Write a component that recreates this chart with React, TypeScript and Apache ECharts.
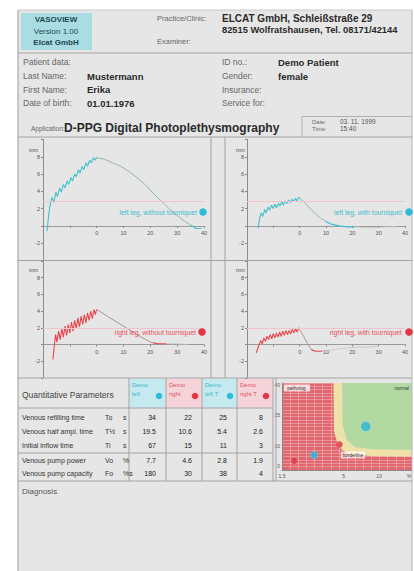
import React, { useEffect, useRef } from "react";
import * as echarts from "echarts";

const FONT = '"Liberation Sans", Arial, Helvetica, sans-serif';

// ---------- curve data (x = time in s, y = amplitude in mm) ----------
const c1Exercise = [[-18.5,-0.6],[-17.8,1.5],[-17.2,2.7],[-16.6,3.3],[-16.0,2.7],[-15.2,3.9],[-14.6,3.4],[-13.8,4.4],[-13.2,3.9],[-12.4,4.8],[-11.8,4.4],[-11.0,5.2],[-10.4,4.8],[-9.6,5.6],[-9.0,5.2],[-8.2,6.0],[-7.6,5.7],[-6.8,6.5],[-6.2,6.1],[-5.4,6.9],[-4.8,6.5],[-4.0,7.3],[-3.4,6.9],[-2.6,7.6],[-2.0,7.3],[-1.2,7.9],[-0.6,7.6],[0,7.9]];
const c1Refill = [[0,7.9],[3,7.7],[6,7.3],[9,6.9],[12,6.3],[15,5.6],[18,4.8],[21,3.8],[24,2.9],[27,2.0],[30,1.2],[33,0.5],[35,0.1]];
const c1Marker = [[35,0.1],[37,-0.3],[39,-0.3]];
const c1Tail: number[][] = [];

const c2Exercise = [[-15.8,-0.3],[-15.2,0.9],[-14.6,1.5],[-14.0,1.1],[-13.3,1.9],[-12.7,1.5],[-12.0,2.2],[-11.4,1.8],[-10.7,2.4],[-10.1,2.0],[-9.4,2.5],[-8.8,2.1],[-8.1,2.6],[-7.5,2.3],[-6.8,2.8],[-6.2,2.4],[-5.5,2.9],[-4.9,2.6],[-4.2,3.0],[-3.6,2.7],[-2.9,3.1],[-2.3,2.8],[-1.6,3.2],[-1.0,2.9],[-0.4,3.3],[0,3.2]];
const c2Refill = [[0,3.2],[2,2.7],[4,2.0],[6,1.4],[8,0.9],[10,0.5]];
const c2Marker = [[10,0.5],[12,0.2],[15,0.0],[18,-0.1],[21,-0.1]];
const c2Tail = [[21,-0.1],[25,-0.2],[29,-0.2],[33,-0.1],[37,-0.1]];

const c3Exercise = [[-16.3,-1.8],[-15.8,-0.2],[-15.3,1.2],[-14.8,0.3],[-14.2,1.6],[-13.6,0.6],[-13.0,1.9],[-12.4,0.9],[-11.8,2.2],[-11.2,1.1],[-10.6,2.4],[-10.0,1.4],[-9.4,2.7],[-8.8,1.6],[-8.2,2.9],[-7.6,1.9],[-7.0,3.2],[-6.4,2.1],[-5.8,3.4],[-5.2,2.4],[-4.6,3.6],[-4.0,2.6],[-3.4,3.8],[-2.8,2.9],[-2.2,4.0],[-1.6,3.1],[-1.0,4.2],[-0.5,3.6],[0,4.2]];
const c3Refill = [[0,4.2],[4,3.4],[8,2.6],[12,1.8],[16,1.0],[20,0.3],[21,0.2]];
const c3Marker = [[21,0.2],[23,0.1],[26,0.1]];
const c3Tail = [[26,0.1],[30,0.1],[34,0.0]];

const c4Exercise = [[-16.5,-1.0],[-15.6,-0.2],[-14.8,0.5],[-14.2,0.1],[-13.6,0.8],[-13.0,0.4],[-12.4,1.0],[-11.8,0.6],[-11.2,1.2],[-10.6,0.7],[-10.0,1.3],[-9.4,0.8],[-8.8,1.4],[-8.2,0.9],[-7.6,1.5],[-7.0,1.0],[-6.4,1.6],[-5.8,1.1],[-5.2,1.7],[-4.6,1.2],[-4.0,1.7],[-3.4,1.3],[-2.8,1.8],[-2.2,1.4],[-1.6,1.9],[-1.0,1.5],[-0.4,2.0],[0,1.8]];
const c4Refill = [[0,1.8],[1.5,1.0],[3,0.1],[4.4,-0.6]];
const c4Marker = [[4.4,-0.6],[6,-0.8],[8.7,-0.8]];
const c4Tail = [[8.7,-0.8],[12,-0.7],[15,-0.5],[18,-0.4],[22,-0.3],[26,-0.3],[30,-0.2]];

const chartLabels = ["left leg, without tourniquet", "left leg, with tourniquet", "right leg, without tourniquet", "right leg, with tourniquet"];
const xTickValues = [-20, -10, 0, 10, 20, 30, 40];
const yTickValues = [-4, -2, 0, 2, 4, 6, 8, 10];

// ---------- table ----------
const colHeadTop = ["Demo", "Demo", "Demo", "Demo"];
const colHeadBottom = ["left", "right", "left T", "right T"];
const rowLabels = ["Venous refilling time", "Venous half ampl. time", "Initial inflow time", "Venous pump power", "Venous pump capacity"];
const rowSymbols = ["To", "T½", "Ti", "Vo", "Fo"];
const rowUnits = ["s", "s", "s", "%", "%s"];
const refillTime = [34, 22, 25, 8];
const halfTime = [19.5, 10.6, 5.4, 2.6];
const inflowTime = [67, 15, 11, 3];
const pumpPower = [7.7, 4.6, 2.8, 1.9];
const pumpCapacity = [180, 30, 38, 4];

// ---------- diagnostic map (x = Vo %, y = T½ s) ----------
const greenZone = [[4.85,41],[4.9,20],[5.3,13],[6.3,9.3],[9,8.2],[19,7.9],[19,41]];
const yellowZone = [[4.1,41],[4.15,17],[4.5,9.6],[5.5,5.8],[9,4.8],[19,4.6],[19,41]];
const mapXLabels = [1.5, 5, 10, 18];
const mapYLabels = [0, 10, 25, 40];

const CYAN = "#45c1cc";
const RED = "#e6474f";

function txt(x: number, y: number, text: string, size: number, color: string, bold = false, align = "left") {
  return {
    type: "text",
    z: 30,
    silent: true,
    style: {
      x, y, text, fill: color,
      font: `${bold ? "bold " : ""}${size}px ${FONT}`,
      textAlign: align, align,
      textVerticalAlign: "middle", verticalAlign: "middle",
    },
  };
}
function hline(x1: number, x2: number, y: number, color = "#a3a3a3", w = 1) {
  return { type: "line", z: 25, silent: true, shape: { x1, y1: y, x2, y2: y }, style: { stroke: color, lineWidth: w } };
}
function vline(x: number, y1: number, y2: number, color = "#a3a3a3", w = 1) {
  return { type: "line", z: 25, silent: true, shape: { x1: x, y1, x2: x, y2 }, style: { stroke: color, lineWidth: w } };
}
function rect(x: number, y: number, w: number, h: number, fill: string, z = 5) {
  return { type: "rect", z, silent: true, shape: { x, y, width: w, height: h }, style: { fill } };
}
function dot(cx: number, cy: number, r: number, fill: string) {
  return { type: "circle", z: 30, silent: true, shape: { cx, cy, r }, style: { fill } };
}

function buildOption() {
  const plotGrids = [
    { left: 43, top: 139.5, width: 161, height: 121 },
    { left: 247, top: 139.5, width: 158, height: 121 },
    { left: 43, top: 261, width: 161, height: 117 },
    { left: 247, top: 261, width: 158, height: 117 },
  ];
  const grids = [
    ...plotGrids,
    { left: 282, top: 383, width: 130, height: 87, show: true, backgroundColor: "#e2666d", borderWidth: 0 },
  ].map((g) => ({ containLabel: false, outerBoundsMode: "none", ...g }));

  const yMin = yTickValues[0];
  const yMax = yTickValues[yTickValues.length - 1];
  const xAxis: any[] = [];
  const yAxis: any[] = [];
  for (let i = 0; i < 4; i++) {
    // move the x axis (line, ticks and labels) up to y = 0
    const zeroOffset = -(plotGrids[i].height * (0 - yMin)) / (yMax - yMin);
    xAxis.push({
      type: "value", gridIndex: i, min: xTickValues[0], max: xTickValues[xTickValues.length - 1], interval: 10,
      offset: zeroOffset,
      axisLine: { show: true, onZero: false, lineStyle: { color: "#9a9a9a", width: 1 } },
      axisTick: { show: true, length: 2, lineStyle: { color: "#888" } },
      axisLabel: { fontSize: 5.5, color: "#555", margin: 4, fontFamily: FONT, formatter: (v: number) => (v < 0 ? "" : String(v)) },
      splitLine: { show: false },
    });
    yAxis.push({
      type: "value", gridIndex: i, min: yMin, max: yMax, interval: 2,
      axisLine: { show: true, onZero: false, lineStyle: { color: "#8c8c8c", width: 1 } },
      axisTick: { show: true, length: 2, lineStyle: { color: "#888" } },
      axisLabel: { fontSize: 5.5, color: "#555", margin: 3, fontFamily: FONT, formatter: (v: number) => (v === 0 || v === 10 || v === -4 ? "" : String(v)) },
      splitLine: { show: false },
    });
  }
  // map axes
  xAxis.push({
    type: "log", gridIndex: 4, min: 1.5, max: 19, logBase: 10,
    axisLine: { show: true, onZero: false, lineStyle: { color: "#888" } },
    axisTick: { show: false },
    axisLabel: { fontSize: 5, color: "#555", margin: 3, fontFamily: FONT, customValues: mapXLabels, formatter: (v: number) => (v >= 18 ? "%" : String(v)) },
    splitLine: { show: false },
  });
  yAxis.push({
    type: "value", gridIndex: 4, min: -2, max: 41,
    axisLine: { show: true, onZero: false, lineStyle: { color: "#888" } },
    axisTick: { show: false },
    axisLabel: { fontSize: 5, color: "#555", margin: 2, fontFamily: FONT, customValues: mapYLabels },
    splitLine: { show: false },
  });
  // cell pattern axes for the map
  xAxis.push({
    type: "value", gridIndex: 4, min: 0, max: 16, interval: 1,
    axisLine: { show: false }, axisTick: { show: false }, axisLabel: { show: false },
    splitLine: { show: true, lineStyle: { color: "rgba(255,255,255,0.42)", width: 0.7 } },
  });
  yAxis.push({
    type: "value", gridIndex: 4, min: 0, max: 26, interval: 1,
    axisLine: { show: false }, axisTick: { show: false }, axisLabel: { show: false },
    splitLine: { show: true, lineStyle: { color: "rgba(255,255,255,0.42)", width: 0.7 } },
  });

  const curves = [
    { ex: c1Exercise, re: c1Refill, mk: c1Marker, tl: c1Tail, col: CYAN, reCol: "#92b6ba", pink: 2.8 },
    { ex: c2Exercise, re: c2Refill, mk: c2Marker, tl: c2Tail, col: CYAN, reCol: "#92b6ba", pink: 2.8 },
    { ex: c3Exercise, re: c3Refill, mk: c3Marker, tl: c3Tail, col: RED, reCol: "#a99896", pink: 2.0 },
    { ex: c4Exercise, re: c4Refill, mk: c4Marker, tl: c4Tail, col: RED, reCol: "#b49896", pink: 2.0 },
  ];
  const series: any[] = [];
  curves.forEach((c, i) => {
    const base = { type: "line", xAxisIndex: i, yAxisIndex: i, showSymbol: false, silent: true, smooth: false };
    series.push({
      ...base, data: c.ex, lineStyle: { color: c.col, width: 1.1 },
      markLine: { silent: true, symbol: "none", label: { show: false }, lineStyle: { color: "#f1c3cc", width: 1, type: "solid" }, data: [{ yAxis: c.pink }] },
    });
    series.push({ ...base, data: c.re, lineStyle: { color: c.reCol, width: 1 } });
    series.push({ ...base, data: c.mk, lineStyle: { color: c.col, width: 1.2 } });
    if (c.tl.length) series.push({ ...base, data: c.tl, lineStyle: { color: "#c4c4c4", width: 0.8 } });
  });

  const zone = (pts: number[][], fill: string, z: number) => ({
    type: "custom", xAxisIndex: 4, yAxisIndex: 4, silent: true, z,
    data: [pts[0]],
    renderItem: (_p: any, api: any) => ({
      type: "polygon",
      shape: { points: pts.map((pt) => api.coord(pt)) },
      style: { fill },
    }),
  });
  series.push(zone(yellowZone, "#eee2a8", 3));
  series.push(zone(greenZone, "#b3d9a3", 4));

  const mapSizes = [10, 7, 8, 7];
  for (let i = 0; i < 4; i++) {
    series.push({
      type: "scatter", xAxisIndex: 4, yAxisIndex: 4, silent: true, z: 6,
      data: [[pumpPower[i], halfTime[i]]], symbolSize: mapSizes[i],
      itemStyle: { color: i % 2 === 0 ? "#2ab4d4" : "#e03442", borderColor: "rgba(255,255,255,0.5)", borderWidth: 0.5 },
    });
  }

  // ---------- graphic: page, header, table ----------
  const g: any[] = [];
  g.push(rect(18, 10, 394, 561, "#e6e6e6", -20));
  g.push(vline(18, 10, 571, "#9d9d9d"));
  g.push(vline(412, 10, 571, "#b5b5b5"));
  g.push(hline(18, 412, 10, "#c8c8c8"));
  g.push(rect(21, 13, 71, 37, "#a9dde2", 6));
  g.push(txt(56, 19.5, "VASOVIEW", 8, "#1e4656", true, "center"));
  g.push(txt(56, 31, "Version 1.00", 8, "#1e4656", false, "center"));
  g.push(txt(56, 42.5, "Elcat GmbH", 8, "#1e4656", true, "center"));
  g.push(txt(157, 18.5, "Practice/Clinic:", 7.5, "#666"));
  g.push(txt(222, 18.5, "ELCAT GmbH, Schleißstraße 29", 10, "#2a2a2a", true));
  g.push(txt(222, 29.5, "82515 Wolfratshausen, Tel. 08171/42144", 9.3, "#2a2a2a", true));
  g.push(txt(157, 41.5, "Examiner:", 7.5, "#666"));
  g.push(hline(18, 412, 53));

  const leftLabels = ["Patient data:", "Last Name:", "First Name:", "Date of birth:"];
  const leftValues = ["", "Mustermann", "Erika", "01.01.1976"];
  const rightLabels = ["ID no.:", "Gender:", "Insurance:", "Service for:"];
  const rightValues = ["Demo Patient", "female", "", ""];
  const rowsY = [62, 76, 89.5, 103];
  rowsY.forEach((y, i) => {
    g.push(txt(23, y, leftLabels[i], 8.5, "#666"));
    if (leftValues[i]) g.push(txt(87, y, leftValues[i], 9.5, "#2a2a2a", true));
    g.push(txt(222, y, rightLabels[i], 8.5, "#666"));
    if (rightValues[i]) g.push(txt(278, y, rightValues[i], 9.5, "#2a2a2a", true));
  });
  g.push(txt(31, 128.5, "Application:", 6.5, "#666"));
  g.push(txt(64, 128, "D-PPG Digital Photoplethysmography", 12, "#2a2a2a", true));
  g.push(hline(302, 412, 116.5, "#b0b0b0"));
  g.push(vline(302, 116.5, 137, "#b0b0b0"));
  g.push(txt(312, 121.5, "Date:", 6, "#666"));
  g.push(txt(340, 121.5, "03. 11. 1999", 6.5, "#555"));
  g.push(txt(312, 128.5, "Time:", 6, "#666"));
  g.push(txt(340, 128.5, "15:40", 6.5, "#555"));
  g.push(hline(18, 412, 137));

  // chart frame
  g.push(vline(211, 137, 378));
  g.push(vline(225, 137, 378));
  g.push(hline(18, 412, 260.5));
  g.push(hline(18, 412, 378));
  const mmPos = [[29, 150], [236, 150], [29, 270], [236, 270]];
  mmPos.forEach(([x, y]) => g.push(txt(x, y, "mm", 5.5, "#555")));
  const labelPos = [[197, 212, 203], [402, 212, 409], [196, 332, 202], [402, 332, 409]];
  labelPos.forEach(([tx, ty, dx], i) => {
    const col = i < 2 ? "#3cc0d0" : "#e6505a";
    g.push(txt(tx, ty, chartLabels[i], 6.8, col, false, "right"));
    g.push(dot(dx, ty, 3.8, i < 2 ? "#2fbcd6" : "#e43644"));
  });

  // table
  const colX = [129, 166, 202, 237, 273];
  const headFill = ["#c4e9ef", "#f6d3d9", "#c4e9ef", "#f6d3d9"];
  for (let i = 0; i < 4; i++) {
    g.push(rect(colX[i] + 0.5, 379, colX[i + 1] - colX[i] - 1, 28.5, headFill[i], 6));
    const tc = i % 2 === 0 ? "#3bb8c8" : "#e0505c";
    g.push(txt(colX[i] + 3, 385, colHeadTop[i], 6, tc));
    g.push(txt(colX[i] + 3, 394, colHeadBottom[i], 6, tc));
    g.push(dot(colX[i + 1] - 7, 396, 3.3, i % 2 === 0 ? "#2fbcd6" : "#e43644"));
  }
  colX.forEach((x) => g.push(vline(x, 378, 481)));
  g.push(vline(276, 378, 481));
  g.push(hline(18, 273, 408));
  g.push(hline(18, 273, 453));
  g.push(hline(18, 412, 481));
  g.push(txt(22, 395, "Quantitative Parameters", 8.5, "#444"));
  const tableRows = [refillTime, halfTime, inflowTime, pumpPower, pumpCapacity];
  const tableY = [417.5, 431.5, 445.5, 460, 473.5];
  tableRows.forEach((vals, r) => {
    const y = tableY[r];
    g.push(txt(22, y, rowLabels[r], 7, "#333"));
    g.push(txt(105, y, rowSymbols[r], 7, "#333"));
    g.push(txt(123, y, rowUnits[r], 7, "#333"));
    vals.forEach((v, c) => g.push(txt(colX[c + 1] - 10, y, String(v), 7, "#222", false, "right")));
  });

  // map labels
  g.push(rect(284, 384.5, 26, 7, "rgba(255,255,255,0.75)", 20));
  g.push(txt(297, 388, "patholog.", 4.8, "#333", false, "center"));
  g.push(txt(409, 388, "normal", 4.8, "#333", false, "right"));
  g.push(rect(341, 451.5, 24, 7, "rgba(255,255,255,0.7)", 20));
  g.push(txt(353, 455, "borderline", 4.6, "#333", false, "center"));

  g.push(txt(22, 491, "Diagnosis", 8, "#555"));

  return {
    animation: false,
    backgroundColor: "#ffffff",
    textStyle: { fontFamily: FONT },
    grid: grids,
    xAxis,
    yAxis,
    series,
    graphic: { elements: g },
  };
}

export default function App() {
  const ref = useRef<HTMLDivElement>(null);
  useEffect(() => {
    if (!ref.current) return;
    const chart = echarts.init(ref.current, null, { renderer: "svg" });
    chart.setOption(buildOption() as any);
    return () => chart.dispose();
  }, []);
  return <div ref={ref} style={{ position: "absolute", left: 0, top: 0, width: 414, height: 571 }} />;
}
